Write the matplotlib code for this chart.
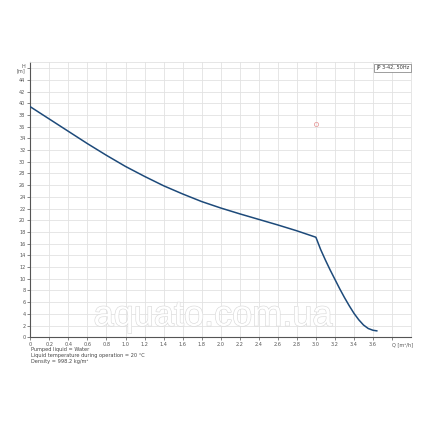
import matplotlib.pyplot as plt
import matplotlib.patheffects as pe

# pump curve JP 3-42
q = [0, 0.2, 0.4, 0.6, 0.8, 1.0, 1.2, 1.4, 1.6, 1.8, 2.0, 2.2, 2.4, 2.6, 2.8,
     3.0, 3.05, 3.1, 3.15, 3.2, 3.25, 3.3, 3.35, 3.4, 3.45, 3.5, 3.55, 3.6, 3.64]
h = [39.4, 37.3, 35.2, 33.1, 31.1, 29.2, 27.5, 25.9, 24.5, 23.2, 22.1, 21.1,
     20.15, 19.2, 18.2, 17.1, 15.0, 13.2, 11.5, 9.9, 8.3, 6.8, 5.4, 4.1, 3.0,
     2.1, 1.5, 1.2, 1.1]
duty_q = [3.0]
duty_h = [36.5]

x_ticks = [round(0.2 * i, 1) for i in range(20)]
x_labels = [f"{v:.1f}" if v else "0" for v in x_ticks[:-1]] + ["Q [m\u00b3/h]"]
y_ticks = list(range(0, 48, 2))
y_labels = [str(v) for v in y_ticks[:-1]] + ["H\n[m]"]
notes = ["Pumped liquid = Water",
         "Liquid temperature during operation = 20 \u00b0C",
         "Density = 998.2 kg/m\u00b3"]
legend_text = "JP 3-42, 50Hz"

fig = plt.figure(figsize=(4.3, 4.3), dpi=100)
ax = fig.add_axes([0.0705, 0.2156, 0.8855, 0.6395])

ax.plot(q, h, color="#1d4a7a", lw=1.1, zorder=3)
ax.plot(duty_q, duty_h, "o", ms=3, mfc="none", mec="#e8a0a0", mew=0.6, zorder=3)

ax.set_xlim(0, 4.0)
ax.set_ylim(0, 47)
ax.set_xticks(x_ticks)
ax.set_xticklabels(x_labels, fontsize=3.6, color="#555555")
ax.set_yticks(y_ticks)
ax.set_yticklabels(y_labels, fontsize=3.6, color="#555555", linespacing=1.0)
ax.get_xticklabels()[-1].set_horizontalalignment("left")
ax.tick_params(length=2, width=0.5, color="#555555", pad=1.5)
ax.grid(True, color="#e2e2e2", lw=0.6)
ax.set_axisbelow(True)
for s in ["top", "right"]:
    ax.spines[s].set_color("#e2e2e2")
    ax.spines[s].set_linewidth(0.6)
for s in ["left", "bottom"]:
    ax.spines[s].set_color("#555555")
    ax.spines[s].set_linewidth(0.8)

ax.text(0.995, 0.99, legend_text, transform=ax.transAxes, ha="right", va="top",
        fontsize=3.6, color="#333333",
        bbox=dict(boxstyle="square,pad=0.3", fc="white", ec="#777777", lw=0.5))

# watermark
ax.text(1.92, 3.6, "aquato.com.ua", ha="center", va="center", fontsize=26,
        color="white", family="Liberation Sans", zorder=2,
        path_effects=[pe.withStroke(linewidth=0.9, foreground="#dadada")])

for i, t in enumerate(notes):
    fig.text(0.072, 0.188 - i * 0.0145, t, fontsize=3.6, color="#444444",
             va="center")

fig.savefig("out.png", dpi=100)
